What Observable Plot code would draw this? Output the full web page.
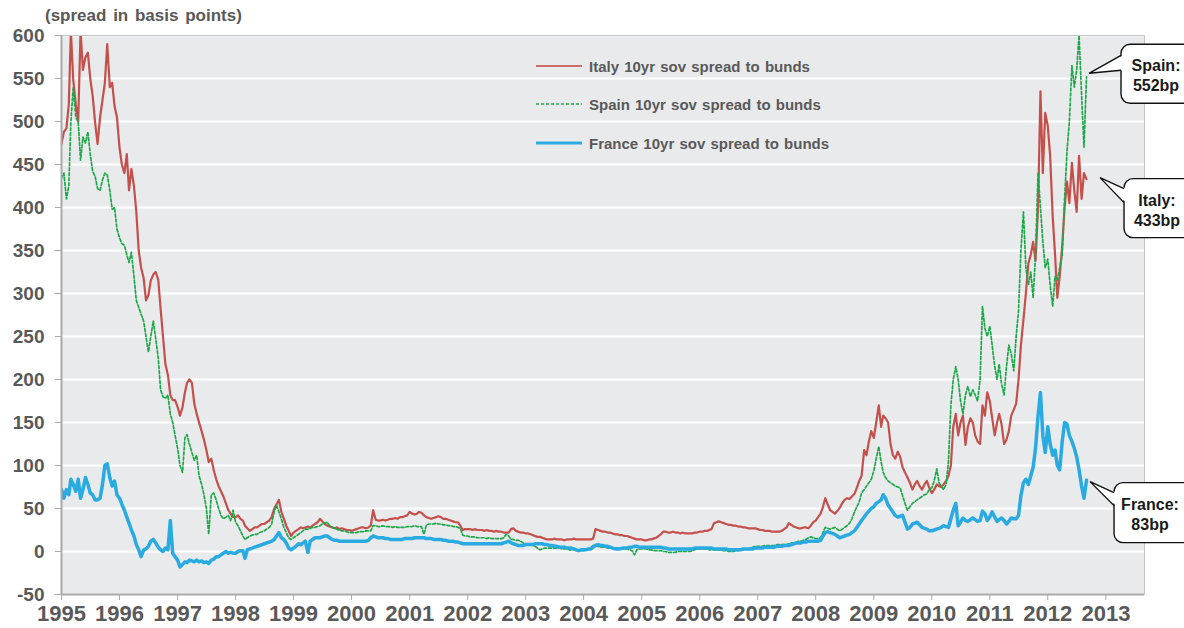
<!DOCTYPE html>
<html><head><meta charset="utf-8">
<script src="https://cdn.jsdelivr.net/npm/d3@7"></script>
<script src="https://cdn.jsdelivr.net/npm/@observablehq/plot@0.6"></script>
<style>
body{margin:0;background:#fff;font-family:"Liberation Sans",Arial,sans-serif;}
#wrap{position:relative;width:1184px;height:628px;overflow:hidden}
#title{position:absolute;left:45px;top:6px;font-size:17px;font-weight:bold;color:#595959;word-spacing:2px;white-space:nowrap}
.leg{position:absolute;left:535px;height:20px;display:flex;align-items:center;font-size:15px;font-weight:bold;color:#595959;white-space:nowrap;word-spacing:1px}
.leg svg{margin-right:6px}
</style></head><body><div id="wrap"><div id="title">(spread in basis points)</div></div>
<script>
// ---- data: semi-monthly readings (1st and 16th of each month), Jan 1995 .. Sep 2012 ----
const START_YEAR = 1995;
const yearTicks = d3.range(1995, 2014);
const yTicks = d3.range(-50, 601, 50);
const seriesNames = ["Italy 10yr sov spread to bunds", "Spain 10yr sov spread to bunds", "France 10yr sov spread to bunds"];
const calloutLabels = [["Italy:", "433bp"], ["Spain:", "552bp"], ["France:", "83bp"]];

const italy = [
474,488,492,520,605,548,520,500,605,560,575,580,550,530,498,474,505,525,545,590,540,545,518,505,
470,450,440,462,420,445,425,395,350,330,318,292,298,315,322,325,316,282,250,218,205,182,176,176,
168,158,168,185,196,200,196,172,160,150,140,130,118,104,108,95,84,76,70,64,56,48,44,40,
40,42,38,36,30,27,24,26,28,28,30,32,32,34,36,40,50,55,60,46,38,30,24,18,
22,24,26,28,27,28,29,28,30,32,34,38,35,32,30,29,28,27,28,26,27,26,25,25,
24,25,26,27,28,28,27,28,30,48,37,36,36,37,36,37,38,38,39,38,40,40,41,42,
46,44,43,44,46,45,42,40,39,38,39,40,41,40,38,38,37,36,35,34,34,30,25,26,
26,26,25,26,25,25,25,24,25,24,24,23,24,23,23,22,22,22,26,27,24,23,22,22,
21,21,20,19,18,17,17,16,15,14,14,14,15,14,14,14,13,14,14,14,15,14,14,14,
14,14,14,14,15,26,25,24,23,23,22,22,21,20,20,19,19,18,18,17,16,15,14,14,
14,13,13,14,14,15,16,18,20,23,23,22,22,23,22,22,21,22,21,21,21,21,22,22,
23,23,24,24,25,26,33,34,35,34,33,32,31,31,30,30,29,29,28,28,27,27,27,27,
26,25,25,24,24,24,23,23,23,23,24,26,28,33,31,29,28,27,27,28,28,27,30,34,
36,40,44,52,62,55,48,46,44,47,51,56,60,62,61,64,67,74,82,88,118,112,128,140,
132,150,170,145,158,155,150,125,112,108,116,110,98,92,86,80,72,78,82,76,72,78,82,74,
68,72,78,76,75,78,82,88,100,145,160,135,150,158,124,145,155,150,135,128,125,170,158,185,
175,155,135,150,160,148,125,130,140,158,165,172,200,240,270,300,335,345,360,338,400,535,440,510,
495,460,390,345,295,320,355,400,430,405,452,420,395,460,410,440,433];

const spain = [
434,440,410,425,500,540,505,500,455,482,475,488,462,442,436,422,420,432,440,438,420,398,400,375,
365,358,356,345,336,348,320,292,284,276,268,250,232,250,268,248,225,188,180,178,182,160,150,135,
120,100,92,132,136,125,115,106,112,88,78,66,50,20,66,68,60,50,42,38,40,42,36,48,
34,30,24,18,14,16,18,19,20,20,22,23,24,26,28,32,46,54,46,38,28,22,16,14,
16,18,20,22,24,26,26,27,28,28,29,30,32,33,34,30,28,27,26,25,24,24,23,22,
22,22,22,23,23,23,24,24,24,30,30,29,29,30,29,29,29,28,29,28,28,28,28,29,
29,29,30,29,29,29,20,31,32,32,32,33,32,32,31,31,30,30,29,29,28,27,19,18,
18,17,17,17,16,16,16,16,15,16,15,15,15,15,15,16,20,18,14,14,13,13,12,10,
9,8,8,7,6,4,2,3,4,4,4,4,4,4,4,3,3,3,2,2,2,1,1,1,
1,2,2,5,7,7,6,5,5,5,4,4,4,4,4,4,3,3,3,2,1,-4,2,3,
3,3,3,2,2,1,1,1,1,0,0,-1,-1,-1,-1,0,0,0,0,0,0,1,2,3,
3,3,3,3,2,2,2,2,2,2,1,1,0,0,0,1,1,2,2,3,3,4,5,6,
6,6,6,7,7,7,7,7,8,8,8,8,8,9,10,10,11,12,12,13,14,16,17,16,
15,15,16,22,28,27,26,27,28,26,24,26,28,30,33,38,46,52,58,68,72,76,80,84,
94,108,122,104,92,86,82,80,78,76,75,74,65,56,48,52,56,58,60,62,64,66,67,72,
74,82,96,80,76,72,78,105,170,200,215,200,175,160,182,192,180,188,182,175,200,285,260,250,
262,240,215,200,218,195,182,215,240,230,210,250,280,350,395,330,310,325,295,345,440,400,360,330,
340,310,285,320,315,330,345,410,465,500,565,540,560,600,530,470,552];

const france = [
72,62,72,66,84,78,70,84,62,72,86,78,68,66,60,60,62,78,100,102,86,76,82,66,
62,55,48,40,33,25,18,8,2,-6,2,3,6,12,14,10,5,2,0,4,2,36,-2,-6,
-10,-18,-15,-12,-13,-10,-11,-12,-10,-12,-11,-13,-12,-14,-10,-9,-6,-6,-4,-2,0,-2,-1,-2,
-2,0,1,1,-8,2,3,4,5,6,7,8,9,10,11,12,14,18,22,16,14,10,4,2,
4,6,9,8,10,12,-1,12,14,16,16,16,17,18,18,16,14,13,13,12,12,12,12,12,
12,12,12,12,12,12,12,13,16,18,17,16,16,16,15,15,14,14,14,14,14,14,15,15,
15,15,16,16,16,16,16,15,15,15,14,14,14,14,13,13,12,12,12,11,11,10,9,9,
9,9,9,9,9,9,9,9,9,9,9,9,9,9,9,10,11,12,10,9,8,7,7,7,
8,8,8,8,9,9,9,9,8,8,7,7,6,6,5,5,5,4,4,4,3,2,1,2,
2,2,3,3,5,7,8,7,7,6,6,5,4,3,3,3,4,4,4,5,5,6,6,5,
5,5,5,5,5,5,5,5,5,4,4,3,3,3,3,3,3,3,3,3,3,3,4,4,
4,4,4,4,4,4,3,3,3,3,3,3,2,2,2,2,2,2,3,3,3,3,3,4,
4,4,4,5,5,5,5,5,6,6,6,7,7,7,8,9,10,10,10,11,11,12,12,12,
12,12,13,18,22,23,22,21,20,18,16,17,18,19,20,22,24,28,32,36,40,44,47,50,
52,56,58,60,66,62,54,50,46,42,40,41,42,34,26,28,32,33,34,31,28,27,26,24,
24,25,26,27,28,30,29,28,38,48,56,30,34,39,36,35,37,39,37,35,36,47,44,36,
40,46,40,35,37,39,36,32,35,39,38,38,42,65,80,84,78,88,98,120,158,185,135,115,
145,125,112,118,100,95,128,150,148,135,128,120,110,95,76,62,83];

// ---- build ----
const colors = ["#c4504c", "#1ea84a", "#29abe2"];
function dateAt(i) {
  const y = START_YEAR + Math.floor(i / 24), k = i % 24;
  return new Date(Date.UTC(y, Math.floor(k / 2), k % 2 ? 16 : 1));
}
const rows = vals => vals.map((v, i) => ({date: dateAt(i), value: v}));
const xDomain = [new Date(Date.UTC(1995, 0, 1)), new Date(Date.UTC(2013, 8, 1))];
const yearDates = yearTicks.map(y => new Date(Date.UTC(y, 0, 1)));

const chart = Plot.plot({
  width: 1184, height: 628,
  marginLeft: 61, marginRight: 40, marginTop: 35, marginBottom: 34,
  style: {fontFamily: "'Liberation Sans', Arial, sans-serif", background: "transparent", overflow: "visible"},
  x: {type: "utc", domain: xDomain},
  y: {domain: [-50, 600]},
  marks: [
    Plot.frame({fill: "#e9eaec"}),
    Plot.gridY(yTicks, {stroke: "#ffffff", strokeOpacity: 1, strokeWidth: 2}),
    Plot.line(rows(italy), {x: "date", y: "value", stroke: colors[0], strokeWidth: 2.2, clip: true}),
    Plot.line(rows(spain), {x: "date", y: "value", stroke: colors[1], strokeWidth: 1.7, strokeDasharray: "3,2", clip: true}),
    Plot.line(rows(france), {x: "date", y: "value", stroke: colors[2], strokeWidth: 3.5, clip: true}),
    Plot.frame({stroke: "#c4c4c4"}),
    Plot.ruleX([xDomain[0]], {stroke: "#a9a9a9", strokeWidth: 2}),
    Plot.ruleY([-50], {stroke: "#a9a9a9", strokeWidth: 2}),
    Plot.axisY(yTicks, {tickSize: 6, tickPadding: 11, fontSize: 19, fontWeight: "bold", color: "#595959", label: null, tickFormat: d => String(d)}),
    Plot.axisX(yearDates, {tickSize: 6, tickPadding: 5, fontSize: 22, fontWeight: "bold", color: "#595959", label: null, tickFormat: d3.utcFormat("%Y")})
  ]
});
document.getElementById("wrap").appendChild(chart);
d3.select(chart).selectAll('g[aria-label="y-axis tick"], g[aria-label="x-axis tick"]').attr("stroke", "#a9a9a9");

// ---- legend ----
const legendRows = [{y: 56, dash: null, w: 1.8}, {y: 94, dash: "3,2", w: 1.4}, {y: 133, dash: null, w: 3}];
legendRows.forEach((r, i) => {
  const div = document.createElement("div");
  div.className = "leg";
  div.style.top = r.y + "px";
  div.innerHTML = `<svg width="48" height="6"><line x1="1" x2="47" y1="3" y2="3" stroke="${colors[i]}" stroke-width="${r.w}" ${r.dash ? `stroke-dasharray="${r.dash}"` : ""} opacity="${i === 0 ? 0.8 : 1}"/></svg><span>${seriesNames[i]}</span>`;
  document.getElementById("wrap").appendChild(div);
});

// ---- callouts anchored to the last data point of each series ----
const sx = chart.scale("x"), sy = chart.scale("y");
const lastIdx = italy.length - 1;
const callouts = [
  {vals: italy, lab: calloutLabels[0], tip: [14, -1], box: [38, 0, 59], base: [10, 24], tx: 33},
  {vals: spain, lab: calloutLabels[1], tip: [3, -3], box: [35, -32, 59], base: [-21, -6], tx: 35},
  {vals: france, lab: calloutLabels[2], tip: [4, 2], box: [28, 3, 60], base: [13, 26], tx: 36}
];
const g = d3.select(chart).append("g");
callouts.forEach(c => {
  const px = sx.apply(dateAt(lastIdx)), py = sy.apply(c.vals[lastIdx]);
  const bx = px + c.box[0], by = py + c.box[1], bh = c.box[2];
  const tip = [px + c.tip[0], py + c.tip[1]];
  const b1 = [bx, py + c.base[0]], b2 = [bx, py + c.base[1]];
  g.append("rect").attr("x", bx).attr("y", by).attr("width", 100).attr("height", bh).attr("rx", 9)
    .attr("fill", "#fff").attr("stroke", "#111").attr("stroke-width", 1.4);
  g.append("path").attr("d", `M${b1[0] + 2},${b1[1]}L${tip[0]},${tip[1]}L${b2[0] + 2},${b2[1]}Z`).attr("fill", "#fff").attr("stroke", "none");
  g.append("path").attr("d", `M${b1[0]},${b1[1]}L${tip[0]},${tip[1]}L${b2[0]},${b2[1]}`).attr("fill", "none").attr("stroke", "#111").attr("stroke-width", 1.4);
  const t = g.append("text").attr("text-anchor", "middle").attr("font-size", 16).attr("font-weight", "bold")
    .attr("fill", "#1a1a1a").attr("font-family", "'Liberation Sans', Arial, sans-serif");
  t.append("tspan").attr("x", bx + c.tx).attr("y", by + 27).text(c.lab[0]);
  t.append("tspan").attr("x", bx + c.tx).attr("y", by + 47).text(c.lab[1]);
});
</script></body></html>
